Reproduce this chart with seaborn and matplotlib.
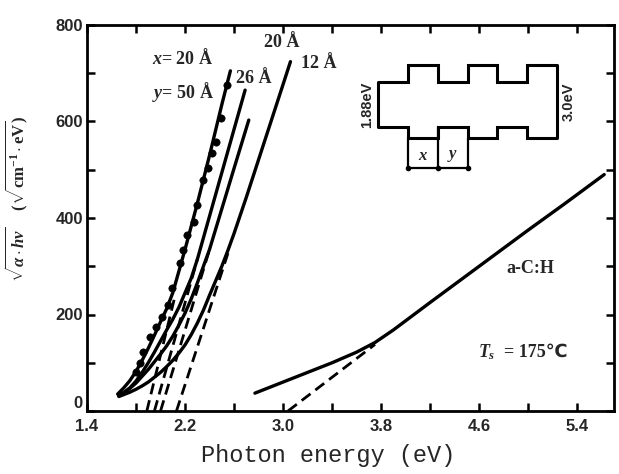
import matplotlib
matplotlib.use("Agg")
import matplotlib.pyplot as plt
import numpy as np
import seaborn as sns

dots_x = [1.80, 1.83, 1.86, 1.91, 1.96, 2.01, 2.06, 2.09, 2.16, 2.18, 2.22,
          2.27, 2.30, 2.35, 2.39, 2.42, 2.45, 2.49, 2.54]
dots_y = [80, 100, 122, 153, 174, 195, 220, 255, 307, 334, 365,
          392, 427, 479, 504, 535, 557, 607, 676]

# solid curves
c1_x = [1.65, 1.70, 1.75, 1.80, 1.85, 1.90, 1.95, 2.00, 2.05, 2.10, 2.20, 2.30, 2.40, 2.50, 2.57]
c1_y = [35, 48, 63, 82, 105, 130, 157, 185, 212, 245, 335, 430, 530, 635, 705]

c2_x = [1.66, 1.70, 1.75, 1.80, 1.85, 1.90, 1.95, 2.00, 2.05, 2.10, 2.15, 2.20, 2.25, 2.30, 2.40, 2.50, 2.60, 2.69]
c2_y = [32, 38, 48, 62, 80, 100, 122, 145, 168, 190, 215, 245, 275, 314, 404, 494, 584, 665]

c3_x = [1.66, 1.70, 1.75, 1.80, 1.85, 1.90, 1.95, 2.00, 2.05, 2.10, 2.15, 2.20, 2.25, 2.30, 2.40, 2.50, 2.60, 2.72]
c3_y = [32, 38, 47, 58, 72, 86, 102, 118, 135, 155, 178, 203, 232, 265, 335, 419, 503, 603]

c4_x = [1.66, 1.70, 1.75, 1.80, 1.85, 1.90, 1.95, 2.00, 2.05, 2.10, 2.15, 2.20, 2.25, 2.30, 2.35,
        2.40, 2.45, 2.50, 2.55, 2.60, 2.70, 2.80, 2.90, 3.00, 3.06]
c4_y = [30, 34, 39, 45, 52, 60, 70, 80, 92, 105, 120, 137, 158, 182, 209,
        240, 270, 300, 333, 368, 443, 521, 599, 677, 724]

ach_x = [2.77, 3.0, 3.2, 3.4, 3.6, 3.75, 3.9, 4.2, 4.6, 5.0, 5.3, 5.62]
ach_y = [37, 60, 80, 100, 122, 142, 168, 225, 300, 375, 430, 490]

# dashed extrapolations to the axis
dash_x = [[1.888, 2.12], [1.95, 2.30], [2.00, 2.40], [2.13, 2.55], [3.04, 3.75]]
dash_y = [[0, 240], [0, 314], [0, 335], [0, 327], [0, 138]]

# superlattice sketch: six layers, band edges in eV
layer_edges = [0, 1, 2, 3, 4, 5, 6]
cb_edge = [1.88, 2.6, 1.88, 2.6, 1.88, 2.6]
vb_edge = [0, -0.45, 0, -0.45, 0, -0.45]

xticks = [1.4, 2.2, 3.0, 3.8, 4.6, 5.4]
yticks = [0, 200, 400, 600, 800]

sns.set_theme(style="ticks")
plt.rcParams["font.family"] = ["Liberation Sans", "DejaVu Sans"]
plt.rcParams["mathtext.fontset"] = "custom"
plt.rcParams["mathtext.rm"] = "Liberation Serif:bold"
plt.rcParams["mathtext.it"] = "Liberation Serif:italic:bold"
plt.rcParams["mathtext.bf"] = "Liberation Serif:bold"

W, H = 619, 474
fig = plt.figure(figsize=(W / 100, H / 100), dpi=100)
fig.patch.set_facecolor("white")
ax = fig.add_axes([87 / W, 1 - 411 / H, 527 / W, 386 / H])
ax.set_facecolor("white")

for cx, cy in [(c1_x, c1_y), (c2_x, c2_y), (c3_x, c3_y), (c4_x, c4_y), (ach_x, ach_y)]:
    sns.lineplot(x=cx, y=cy, ax=ax, color="black", lw=2.4, sort=False, estimator=None)

for dx, dy in zip(dash_x, dash_y):
    sns.lineplot(x=dx, y=dy, ax=ax, color="black", lw=2.0, sort=False,
                 estimator=None, linestyle=(0, (4, 2.2)))

sns.scatterplot(x=dots_x, y=dots_y, ax=ax, color="black", s=28, edgecolor="black", zorder=4)

ax.set_xlim(1.4, 5.70)
ax.set_ylim(0, 800)
ax.set_xticks(xticks)
ax.set_xticklabels([f"{v:.1f}" for v in xticks])
ax.set_xticks(np.arange(1.8, 5.7, 0.8), minor=True)
ax.set_yticks(yticks)
ax.set_yticklabels([str(v) for v in yticks])
ax.set_yticks([100, 300, 500, 700], minor=True)
ax.tick_params(which="both", direction="in", top=True, right=True, width=1.8, color="black")
ax.tick_params(which="major", length=6, labelsize=12)
ax.tick_params(axis="x", which="major", pad=6)
ax.tick_params(axis="y", which="major", pad=3)
ax.tick_params(which="minor", length=6)
for lab in ax.get_xticklabels() + ax.get_yticklabels():
    lab.set_fontweight("bold")
ax.get_yticklabels()[0].set_verticalalignment("bottom")
for sp in ax.spines.values():
    sp.set_linewidth(2.0)
    sp.set_color("black")

ax.set_xlabel("Photon energy (eV)", family="Liberation Mono", fontsize=17)
ax.xaxis.set_label_coords(0.457, -0.085)
ax.set_ylabel(r"$\sqrt{\alpha\cdot h\nu}$    $(\sqrt{\mathrm{cm}^{-1}\cdot\mathrm{eV}})$",
              fontsize=12)
ax.yaxis.set_label_coords(-0.108, 0.55)

tkw = dict(family=["Liberation Serif", "DejaVu Sans"], fontweight="bold", fontsize=13)
ax.text(2.18, 732, r"$x$= 20 Å", ha="center", va="center", **tkw)
ax.text(2.18, 661, r"$y$= 50 Å", ha="center", va="center", **tkw)
ax.text(2.76, 690, "26 Å", ha="center", va="center", **tkw)
ax.text(2.99, 763, "20 Å", ha="center", va="center", **tkw)
ax.text(3.29, 721, "12 Å", ha="center", va="center", **tkw)
ax.text(5.02, 296, "a-C:H", ha="center", va="center", **tkw)
ax.text(4.66, 122, r"$T_s$", ha="center", va="center", **tkw)
ax.text(4.80, 122, "= 175℃", ha="left", va="center", **tkw)

# inset band diagram
ins = fig.add_axes([378 / W, 1 - 172.6 / H, 179 / W, 110.4 / H])
ins.set_xlim(0, 6)
ins.set_ylim(-1.9, 2.7)
ins.axis("off")
ins.stairs(cb_edge, layer_edges, baseline=None, color="black", lw=2.2, clip_on=False)
ins.stairs(vb_edge, layer_edges, baseline=None, color="black", lw=2.2, clip_on=False)
ins.plot([0, 0], [vb_edge[0], cb_edge[0]], color="black", lw=2.2, clip_on=False)
ins.plot([6, 6], [vb_edge[-1], cb_edge[-1]], color="black", lw=2.2, clip_on=False)
for xe, top in [(1, vb_edge[1]), (2, vb_edge[2]), (3, vb_edge[3])]:
    ins.plot([xe, xe], [top, -1.78], color="black", lw=1.6, clip_on=False)
ins.plot([1, 3], [-1.72, -1.72], color="black", lw=1.6, marker="o", ms=3,
         markevery=[0, -1], clip_on=False)
ins.plot([2], [-1.72], color="black", marker="o", ms=3, clip_on=False)
ins.text(1.5, -1.2, r"$x$", ha="center", va="center", fontsize=12)
ins.text(2.5, -1.2, r"$y$", ha="center", va="center", fontsize=12)
ins.text(-0.38, 0.94, "1.88eV", rotation=90, ha="center", va="center",
         fontsize=10.5, fontweight="bold")
ins.text(6.4, 1.05, "3.0eV", rotation=90, ha="center", va="center",
         fontsize=10.5, fontweight="bold")

fig.savefig("out.png", dpi=100)
